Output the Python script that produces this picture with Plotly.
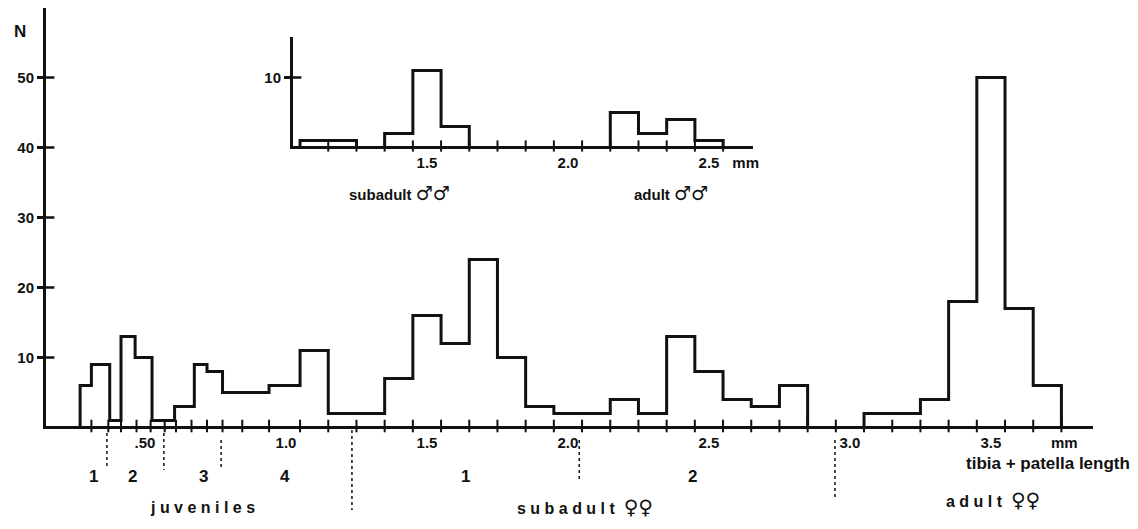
import plotly.graph_objects as go

# ---------------- data ----------------
# main histogram: tibia + patella length (mm) of juveniles / subadult & adult females
bin_edges = [0.27, 0.31, 0.375, 0.415, 0.465, 0.525, 0.605, 0.675, 0.72, 0.775, 0.94,
             1.05, 1.15, 1.35, 1.45, 1.55, 1.65, 1.75, 1.85, 1.95, 2.15, 2.25, 2.35,
             2.45, 2.55, 2.65, 2.75, 2.85, 3.05, 3.25, 3.35, 3.45, 3.55, 3.65, 3.75]
counts = [6, 9, 1, 13, 10, 1, 3, 9, 8, 5, 6, 11, 2, 7, 16, 12, 24, 10, 3, 2, 4, 2,
          13, 8, 4, 3, 6, 0, 2, 4, 18, 50, 17, 6]

# inset histogram: males
male_edges = [1.05, 1.15, 1.25, 1.35, 1.45, 1.55, 1.65, 2.15, 2.25, 2.35, 2.45, 2.55]
male_counts = [1, 1, 0, 2, 11, 3, 0, 5, 2, 4, 1]

# small class marks on the main x axis
main_marks = [0.31, 0.37, 0.415, 0.47, 0.52, 0.57, 0.61, 0.665, 0.72, 0.775, 0.845,
              0.94, 1.05, 1.15, 1.25, 1.35, 1.45, 1.55, 1.65, 1.75, 1.85, 1.95, 2.05,
              2.15, 2.25, 2.35, 2.45, 2.55, 2.65, 2.75, 2.85, 2.95, 3.05, 3.15, 3.25,
              3.35, 3.45, 3.55, 3.65, 3.75]
inset_marks = [1.15, 1.25, 1.35, 1.45, 1.55, 1.65, 1.75, 1.85, 1.95, 2.05, 2.15,
               2.25, 2.35, 2.45, 2.55]

# tick labels
main_tickvals = [0.5, 1.0, 1.5, 2.0, 2.5, 3.0, 3.5, 3.76]
main_ticktext = [".50", "1.0", "1.5", "2.0", "2.5", "3.0", "3.5", "mm"]
main_yticks = [10, 20, 30, 40, 50]
inset_tickvals = [1.5, 2.0, 2.5, 2.63]
inset_ticktext = ["1.5", "2.0", "2.5", "mm"]
inset_yticks = [10]

# instar / stage boundaries and stage labels
stage_bounds = [0.365, 0.567, 0.77, 1.234, 2.04, 2.947]
stage_label_x = [0.316, 0.454, 0.706, 0.995, 1.635, 2.44]
stage_label_text = ["1", "2", "3", "4", "1", "2"]

# ---------------- figure ----------------
INK = "#111111"
FONT = "Liberation Sans"
W, H = 1138, 529
L, R, T, B = 46, 45, 8, 103
PH = H - T - B
PXU = 7.0          # pixels per count unit
Y0 = 1.5 / PXU     # put count 0 on the centre of the 3 px axis line
XR = [0.149, 3.862]
XR2 = [1.025, 2.656]


def py(px):
    """pixel row -> paper y"""
    return (H - B - px) / PH


def px_x(px):
    return (px - L) / (W - L - R)


def sym(s, size=20):
    return f'<span style="font-family:DejaVu Sans;font-size:{size}px">{s}</span>'


fig = go.Figure()

# main step histogram
fig.add_trace(go.Scatter(
    x=[bin_edges[0]] + bin_edges, y=[0] + counts + [0],
    mode="lines", line=dict(shape="hv", color=INK, width=3),
    cliponaxis=False, hoverinfo="skip", showlegend=False))

# class marks on main axis (placed on the axis edge so they are not hidden)
fig.add_trace(go.Scatter(
    x=main_marks, y=[Y0] * len(main_marks), mode="markers",
    marker=dict(symbol="line-ns-open", size=9, color=INK,
                line=dict(color=INK, width=2)),
    cliponaxis=False, hoverinfo="skip", showlegend=False))

# inner half of the "+" shaped y ticks
fig.add_trace(go.Scatter(
    x=[XR[0]] * len(main_yticks), y=main_yticks, mode="markers",
    marker=dict(symbol="line-ew-open", size=12, color=INK,
                line=dict(color=INK, width=2.5)),
    cliponaxis=False, hoverinfo="skip", showlegend=False))

# inset step histogram
fig.add_trace(go.Scatter(
    x=[male_edges[0]] + male_edges, y=[0] + male_counts + [0],
    mode="lines", line=dict(shape="hv", color=INK, width=3),
    xaxis="x2", yaxis="y2",
    cliponaxis=False, hoverinfo="skip", showlegend=False))

fig.add_trace(go.Scatter(
    x=inset_marks, y=[Y0] * len(inset_marks), mode="markers",
    marker=dict(symbol="line-ns-open", size=8, color=INK,
                line=dict(color=INK, width=2)),
    xaxis="x2", yaxis="y2",
    cliponaxis=False, hoverinfo="skip", showlegend=False))

fig.add_trace(go.Scatter(
    x=[XR2[0]] * len(inset_yticks), y=inset_yticks, mode="markers",
    marker=dict(symbol="line-ew-open", size=12, color=INK,
                line=dict(color=INK, width=2.5)),
    xaxis="x2", yaxis="y2",
    cliponaxis=False, hoverinfo="skip", showlegend=False))

tickfont = dict(family=FONT, size=15, color=INK, weight="bold")

fig.update_layout(
    width=W, height=H,
    margin=dict(l=L, r=R, t=T, b=B),
    paper_bgcolor="white", plot_bgcolor="white",
    showlegend=False,
    xaxis=dict(range=XR, domain=[0, 1], showline=True, linewidth=3,
               linecolor=INK, ticks="", tickvals=main_tickvals,
               ticktext=main_ticktext, tickfont=tickfont, showgrid=False,
               zeroline=False, ticklabelstandoff=1),
    yaxis=dict(range=[Y0, Y0 + PH / PXU], domain=[0, 1], showline=True, linewidth=3,
               linecolor=INK, ticks="outside", ticklen=6, tickwidth=2.5,
               tickcolor=INK, tickvals=main_yticks, tickfont=tickfont,
               showgrid=False, zeroline=False),
    xaxis2=dict(range=XR2, domain=[px_x(293), px_x(753)],
                anchor="y2", showline=True, linewidth=3, linecolor=INK,
                ticks="", tickvals=inset_tickvals, ticktext=inset_ticktext,
                tickfont=tickfont, showgrid=False, zeroline=False,
                ticklabelstandoff=1),
    yaxis2=dict(range=[Y0, Y0 + (146 - 37) / PXU], domain=[py(146), py(37)],
                anchor="x2", showline=True, linewidth=3, linecolor=INK,
                ticks="outside", ticklen=6, tickwidth=2.5, tickcolor=INK,
                tickvals=inset_yticks, tickfont=tickfont, showgrid=False,
                zeroline=False),
)

# stage boundary dotted lines (below the axis)
bound_spans = [(433, 468), (433, 470), (440, 470), (430, 510), (440, 480), (440, 500)]
for xb, (y0, y1) in zip(stage_bounds, bound_spans):
    fig.add_shape(type="line", xref="x", yref="paper", x0=xb, x1=xb,
                  y0=py(y0), y1=py(y1), line=dict(color=INK, width=1.5, dash="dot"))

# stage numbers
for xs, t in zip(stage_label_x, stage_label_text):
    fig.add_annotation(x=xs, y=py(476), xref="x", yref="paper", text=t,
                       showarrow=False, xanchor="center", yanchor="middle",
                       font=dict(family=FONT, size=17, color=INK, weight="bold"))

texts = [
    ("N", 20, 32, "center", 17),
    ("j u v e n i l e s", 202, 507, "center", 16),
    ("s u b a d u l t  " + sym("♀♀"), 585, 507, "center", 16),
    ("tibia + patella length", 1132, 463, "right", 17),
    ("a d u l t  " + sym("♀♀"), 993, 500, "center", 16),
    ("subadult " + sym("♂♂", 19), 399, 193, "center", 15),
    ("adult " + sym("♂♂", 19), 671, 193, "center", 15),
]
for t, x, y, xa, s in texts:
    fig.add_annotation(x=px_x(x), y=py(y), xref="paper", yref="paper", text=t,
                       showarrow=False, xanchor=xa, yanchor="middle",
                       font=dict(family=FONT, size=s, color=INK, weight="bold"))

fig.write_html("out.html")
